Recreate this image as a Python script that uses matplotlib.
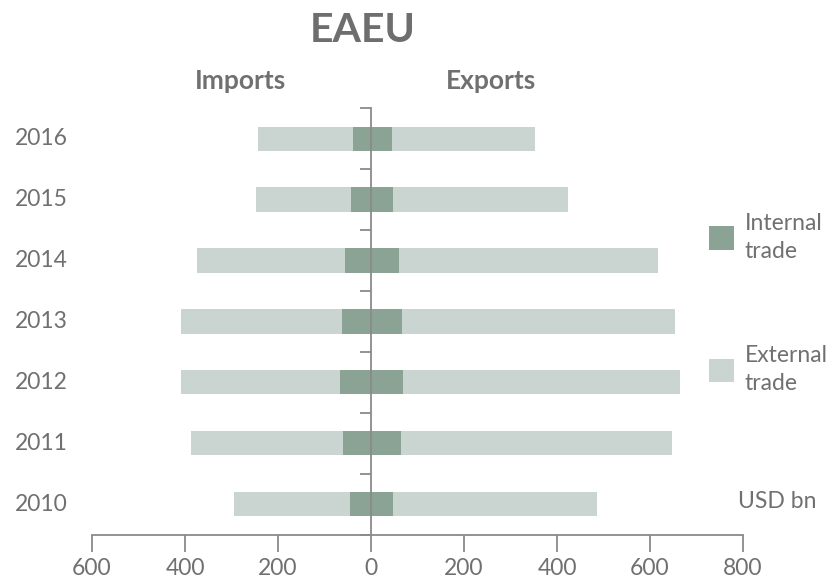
import matplotlib
matplotlib.use("Agg")
import matplotlib.pyplot as plt
from matplotlib.patches import Patch
import numpy as np

years = ["2010", "2011", "2012", "2013", "2014", "2015", "2016"]
internal_imports = [45, 60, 67, 62, 56, 43, 39]
total_imports = [294, 387, 408, 408, 374, 248, 243]
internal_exports = [48, 64, 69, 67, 60, 47, 45]
total_exports = [486, 648, 665, 654, 617, 424, 353]
xticks = [-600, -400, -200, 0, 200, 400, 600, 800]
xtick_labels = ["600", "400", "200", "0", "200", "400", "600", "800"]

c_int = "#8BA394"
c_ext = "#CAD5D1"
gray_axis = "#8A8A8A"
txt = "#707070"
fam = ["Lato", "DejaVu Sans"]
plt.rcParams["font.family"] = fam
fs = 16.5

fig = plt.figure(figsize=(8.34, 5.82), dpi=100)
ax = fig.add_axes([92/834, 47.5/582, 651/834, 426.2/582])

y = np.arange(len(years))
ext_imp = np.array(total_imports) - np.array(internal_imports)
ext_exp = np.array(total_exports) - np.array(internal_exports)
h = 0.4
ax.barh(y, -ext_imp, left=-np.array(internal_imports), height=h, color=c_ext, zorder=2)
ax.barh(y, ext_exp, left=np.array(internal_exports), height=h, color=c_ext, zorder=2)
ax.barh(y, -np.array(internal_imports), height=h, color=c_int, zorder=2)
ax.barh(y, internal_exports, height=h, color=c_int, zorder=2)

ax.set_xlim(-600, 800)
ax.set_ylim(-0.5, len(years) - 0.5)

for s in ["top", "right"]:
    ax.spines[s].set_visible(False)
ax.spines["left"].set_position(("data", 0))
ax.spines["left"].set_color(gray_axis)
ax.spines["left"].set_linewidth(1.3)
ax.spines["left"].set_zorder(3)
ax.spines["bottom"].set_color(gray_axis)
ax.spines["bottom"].set_linewidth(1.3)

ax.set_xticks(xticks)
ax.set_xticklabels(xtick_labels)
ax.tick_params(axis="x", direction="out", length=12, width=1.3, color=gray_axis,
               labelsize=fs, labelcolor=txt, pad=5)
ax.set_yticks(y)
ax.set_yticks(np.arange(-0.5, len(years), 1), minor=True)
ax.tick_params(axis="y", which="major", length=0, labelleft=False)
ax.tick_params(axis="y", which="minor", direction="out", length=8, width=1.3, color=gray_axis)

for i, lab in enumerate(years):
    ax.text(-0.037, i, lab, transform=ax.get_yaxis_transform(), ha="right", va="center",
            fontsize=fs, color=txt)

fig.text(363/834, 1 - 31/582, "EAEU", ha="center", va="center", fontsize=29.5,
         fontweight="bold", color="#6E6E6E")
fig.text(241/834, 1 - 81/582, "Imports", ha="center", va="center", fontsize=19,
         fontweight="bold", color=txt)
fig.text(491/834, 1 - 81/582, "Exports", ha="center", va="center", fontsize=19,
         fontweight="bold", color=txt)
fig.text(738/834, 1 - 501/582, "USD bn", ha="left", va="center", fontsize=fs, color=txt)

handles = [Patch(facecolor=c_int, edgecolor="none", label="Internal\ntrade"),
           Patch(facecolor=c_ext, edgecolor="none", label="External\ntrade")]
leg = fig.legend(handles=handles, loc="center left", bbox_to_anchor=(709/834, 1 - 303.5/582),
                 frameon=False, fontsize=fs, labelspacing=3.6, handlelength=1.1,
                 handleheight=1.2, handletextpad=0.45, borderpad=0, borderaxespad=0)
for t in leg.get_texts():
    t.set_color(txt)
    t.set_linespacing(1.45)

fig.savefig("out.png", dpi=100)
